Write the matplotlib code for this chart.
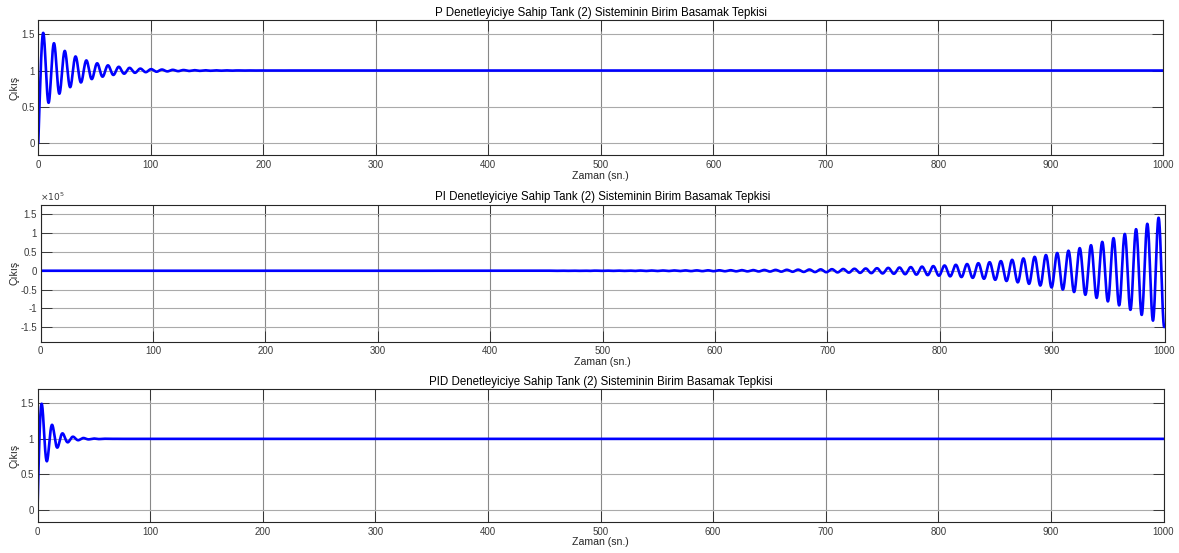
import numpy as np
import matplotlib
matplotlib.use('Agg')
import matplotlib.pyplot as plt
from matplotlib.ticker import FuncFormatter, MultipleLocator

plt.rcParams['font.family'] = ['Liberation Sans', 'DejaVu Sans']

T_END = 1000.0

# tepe noktaları (zaman [sn], çıkış) -- salınımlı modun genliği, sönümü ve periyodu bunlardan
P_PEAK_T = [4.4, 14.5, 23.7, 33.4, 42.9, 52.4]
P_PEAK_Y = [1.51, 1.39, 1.27, 1.19, 1.14, 1.10]

PI_PEAK_T = [904.5, 914.5, 924.5, 934.5, 944.5, 954.6, 964.6, 974.6, 984.7, 994.7]
PI_PEAK_Y = [0.47e5, 0.535e5, 0.60e5, 0.675e5, 0.754e5, 0.868e5, 1.0e5, 1.105e5, 1.246e5, 1.395e5]

PID_PEAK_T = [3.85, 12.7, 22.2, 31.7]
PID_PEAK_Y = [1.505, 1.20, 1.08, 1.03]

TITLES = [
    'P Denetleyiciye Sahip Tank (2) Sisteminin Birim Basamak Tepkisi',
    'PI Denetleyiciye Sahip Tank (2) Sisteminin Birim Basamak Tepkisi',
    'PID Denetleyiciye Sahip Tank (2) Sisteminin Birim Basamak Tepkisi',
]
X_LABEL = 'Zaman (sn.)'
Y_LABEL = 'Çıkış'


def fit_mode(peak_t, peak_y):
    """Tepe noktalarından baskın salınım modu: genlik(0), sönüm hızı, periyot, faz referansı."""
    peak_t = np.asarray(peak_t, float)
    dev = np.abs(np.asarray(peak_y, float) - 1.0)
    slope, intercept = np.polyfit(peak_t, np.log(dev), 1)
    period = np.mean(np.diff(peak_t))
    return np.exp(intercept), -slope, period, peak_t[0]


def step_response(t, amp0, decay, period, t_ref, fast_rate=1.0):
    w = 2 * np.pi / period
    osc = amp0 * np.exp(-decay * t) * np.cos(w * (t - t_ref))
    # hızlı reel kutup: y(0) = 0 olsun
    c = 1.0 + osc[0]
    return 1.0 + osc - c * np.exp(-fast_rate * t)


t = np.linspace(0, T_END, 40001)
y_p = step_response(t, *fit_mode(P_PEAK_T, P_PEAK_Y))
y_pi = step_response(t, *fit_mode(PI_PEAK_T, PI_PEAK_Y))
y_pid = step_response(t, *fit_mode(PID_PEAK_T, PID_PEAK_Y))

W, H = 1179, 553
fig = plt.figure(figsize=(W / 100, H / 100), dpi=100)


def px_axes(left, top, right, bottom):
    ax = fig.add_axes([left / W, 1 - bottom / H, (right - left) / W, (bottom - top) / H])
    # y etiketleri üç grafikte de aynı sütunda dursun
    ax.yaxis.set_label_coords((19.5 - left) / (right - left), 0.55)
    return ax


ax_p = px_axes(38.3, 20, 1163.3, 155)
ax_pi = px_axes(40.5, 204.5, 1164.5, 341.5)
ax_pid = px_axes(37.5, 389.3, 1163.5, 521.7)

fmt = FuncFormatter(lambda v, _: f'{v:g}')
fmt_e5 = FuncFormatter(lambda v, _: f'{v / 1e5:g}')

for ax, y, title in zip([ax_p, ax_pi, ax_pid], [y_p, y_pi, y_pid], TITLES):
    ax.plot(t, y, color='#0000ff', lw=1.9, solid_joinstyle='round')
    ax.set_xlim(0, T_END)
    ax.xaxis.set_major_locator(MultipleLocator(100))
    ax.xaxis.set_major_formatter(fmt)
    ax.set_title(title, fontsize=8.3, pad=3, color='black')
    ax.set_xlabel(X_LABEL, fontsize=7.6, labelpad=0.5, color='#262626')
    ax.set_ylabel(Y_LABEL, fontsize=7.6, color='#262626')
    ax.tick_params(direction='in', length=8, width=0.6, labelsize=7.0,
                   colors='#262626', top=True, right=True, pad=2.4)
    ax.tick_params(axis='x', labelcolor='#3a3a3a', pad=3.5)
    ax.tick_params(axis='y', labelcolor='#3a3a3a')
    for s in ax.spines.values():
        s.set_color('#262626')
        s.set_linewidth(0.8)
    ax.grid(axis='y', color='#aaaaaa', lw=0.8)
    ax.grid(axis='x', color='#888888', lw=0.8)
    ax.set_axisbelow(True)

for ax in (ax_p, ax_pid):
    ax.set_ylim(-0.17, 1.70)
    ax.yaxis.set_major_locator(MultipleLocator(0.5))
    ax.yaxis.set_major_formatter(fmt)

ax_pi.set_ylim(-1.88e5, 1.76e5)
ax_pi.yaxis.set_major_locator(MultipleLocator(0.5e5))
ax_pi.yaxis.set_major_formatter(fmt_e5)
ax_pi.text(0.0, 1.012, r'$\times10^{5}$', transform=ax_pi.transAxes,
           ha='left', va='bottom', fontsize=6.5, color='#3a3a3a')

fig.savefig('out.png', dpi=100)
